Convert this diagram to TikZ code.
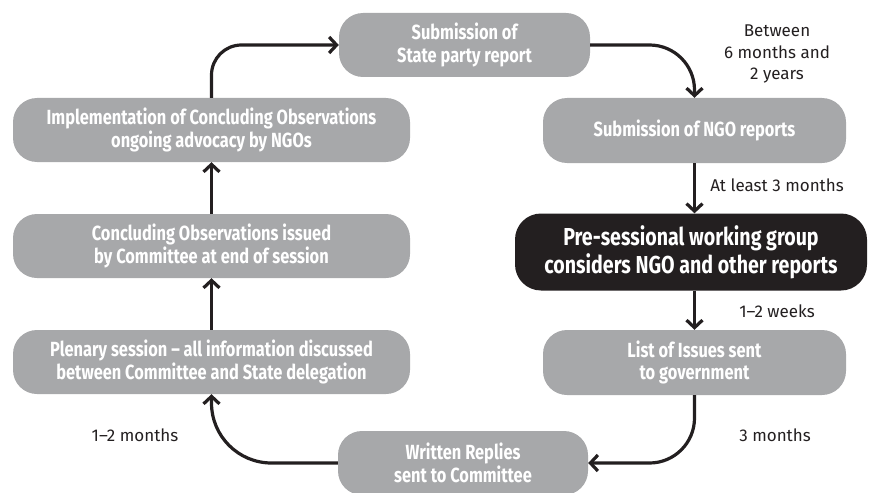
\documentclass[tikz,border=0pt]{standalone}
\usepackage{fontspec}
\usetikzlibrary{arrows.meta}
\newfontfamily\boxfont[FakeStretch=0.80]{Fira Sans}
\newfontfamily\notefont{Fira Sans}
\definecolor{boxgray}{HTML}{A7A8AA}
\definecolor{inkblack}{HTML}{231F20}
\begin{document}
\begin{tikzpicture}[x=1pt,y=-1pt,
  gbox/.style={fill=boxgray, rounded corners=24pt, text=white, align=center,
    font=\boxfont\bfseries\fontsize{20.5}{22.5}\selectfont, inner sep=0pt},
  dbox/.style={fill=inkblack, rounded corners=26pt, text=white, align=center,
    font=\boxfont\bfseries\fontsize{24.5}{28}\selectfont, inner sep=0pt},
  flow/.style={draw=inkblack, line width=3.2pt, -{Straight Barb[length=7.5pt,width=16pt,line width=3.2pt]}},
  note/.style={text=inkblack, align=center, font=\notefont\fontsize{17}{21.5}\selectfont, inner sep=0pt}]
\useasboundingbox (0,0) rectangle (869,492);

% process steps
\node[gbox, minimum width=251pt, minimum height=64pt] (sub) at (464.5,45) {Submission of\\State party report};
\node[gbox, minimum width=303pt, minimum height=65pt] (ngo) at (694.5,130.5) {Submission of NGO reports};
\node[dbox, minimum width=352pt, minimum height=77pt] (pre) at (691,252) {Pre-sessional working group\\considers NGO and other reports};
\node[gbox, minimum width=303pt, minimum height=65pt] (list) at (694.5,362.5) {List of Issues sent\\to government};
\node[gbox, minimum width=250pt, minimum height=64pt] (wr) at (463,463) {Written Replies\\sent to Committee};
\node[gbox, minimum width=397pt, minimum height=64pt] (plen) at (211.5,362) {Plenary session – all information discussed\\between Committee and State delegation};
\node[gbox, minimum width=397pt, minimum height=64pt] (conc) at (211.5,246) {Concluding Observations issued\\by Committee at end of session};
\node[gbox, minimum width=397pt, minimum height=64pt] (impl) at (211.5,130) {Implementation of Concluding Observations\\ongoing advocacy by NGOs};

% connectors
\draw[flow, rounded corners=30pt] (impl.north) |- (sub.west);
\draw[flow, rounded corners=45pt] (sub.east) -| (ngo.north);
\draw[flow] (ngo.south) -- (pre.north -| ngo.south);
\draw[flow] (pre.south -| list.north) -- (list.north);
\draw[flow, rounded corners=45pt] (list.south) |- (wr.east);
\draw[flow, rounded corners=60pt] (wr.west) -| (plen.south);
\draw[flow] (plen.north) -- (conc.south);
\draw[flow] (conc.north) -- (impl.south);

% time spans
\node[note] (t1) at (777,54) {Between\\6 months and\\2 years};
\node[note] (t2) at (777,185) {At least 3 months};
\node[note] (t3) at (777,311) {1–2 weeks};
\node[note] (t4) at (775,435) {3 months};
\node[note] (t5) at (135,435) {1–2 months};
\end{tikzpicture}
\end{document}
